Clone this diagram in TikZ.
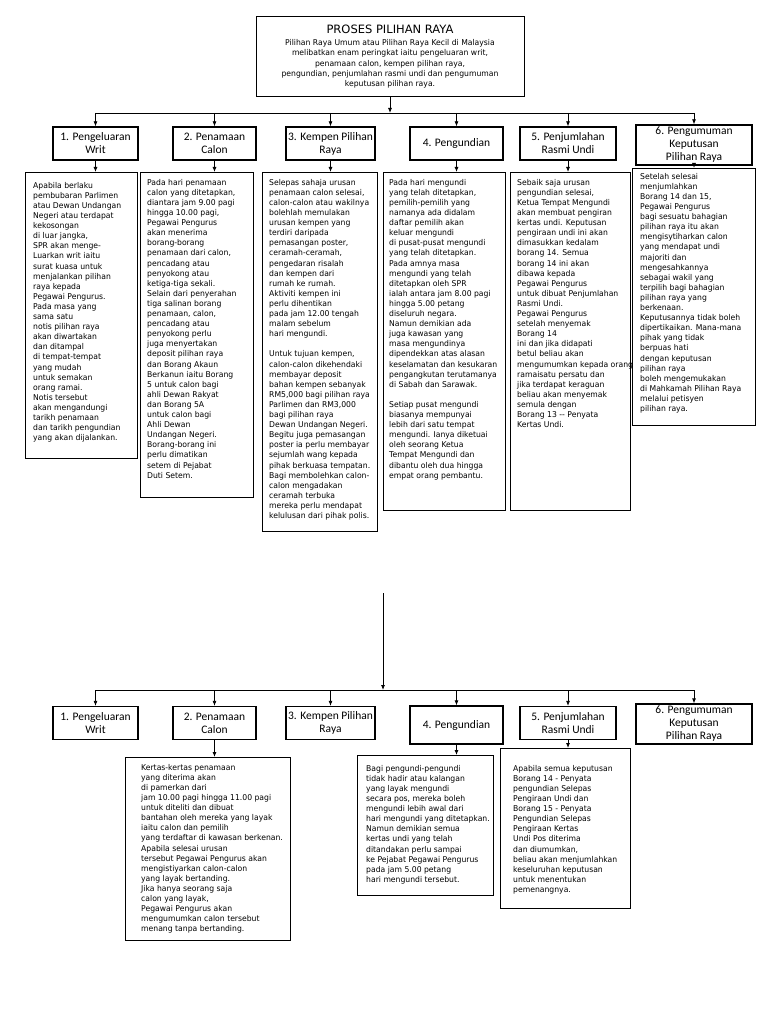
\documentclass[tikz,border=0pt]{standalone}
\usepackage{fontspec}
\usetikzlibrary{arrows.meta}
\newfontfamily\bodyfont[FakeStretch=0.96]{DejaVu Sans}
\newfontfamily\titlefont{DejaVu Sans}
\newfontfamily\headfont{Carlito}
\tikzset{
  hdr/.style={draw=black, line width=1.3pt, font=\headfont\fontsize{11.5}{13}\selectfont, align=center, inner sep=1pt},
  tbox/.style={draw=black, line width=0.9pt, anchor=north west, inner sep=0pt},
  btxt/.style={anchor=north west, font=\bodyfont\fontsize{8}{10.1}\selectfont, align=left, inner sep=0pt},
  arr/.style={-{Latex[length=5pt,width=4pt]}, line width=0.8pt},
  link/.style={line width=0.9pt}
}
\begin{document}
\begin{tikzpicture}[x=1pt,y=-1pt]
\useasboundingbox (0,0) rectangle (768,1024);
\fill[white] (0,0) rectangle (768,1024);
% ---------- top box
\node[draw=black, line width=1pt, minimum width=268pt, minimum height=80pt, align=center, inner sep=0pt,
      font=\bodyfont\fontsize{8}{10.4}\selectfont] (top) at (390,57)
 {{\titlefont\fontsize{11.5}{13}\selectfont PROSES PILIHAN RAYA}\\[1pt]
  Pilihan Raya Umum  atau Pilihan Raya Kecil di Malaysia\\
  melibatkan enam peringkat iaitu pengeluaran writ,\\
  penamaan calon, kempen pilihan raya,\\
  pengundian, penjumlahan rasmi undi dan pengumuman\\
  keputusan pilihan raya.};
\coordinate (bar) at (0,113);
% ---------- headers (top)
\node[hdr, minimum width=85pt, minimum height=33pt] (h1) at (95.5,143.5) {1. Pengeluaran\\Writ};
\node[hdr, minimum width=83pt, minimum height=33pt] (h2) at (214.5,143.5) {2. Penamaan\\Calon};
\node[hdr, minimum width=89pt, minimum height=33pt] (h3) at (330.5,143.5) {3. Kempen Pilihan\\Raya};
\node[hdr, minimum width=93pt, minimum height=33pt] (h4) at (456.5,143.5) {4. Pengundian};
\node[hdr, minimum width=96pt, minimum height=33pt] (h5) at (568,143.5) {5. Penjumlahan\\Rasmi Undi};
\node[hdr, minimum width=116pt, minimum height=40pt] (h6) at (694,145) {6. Pengumuman\\Keputusan\\Pilihan Raya};
\draw[arr] (top.south) -- (top.south |- bar);
\draw[link] (h1.north |- bar) -- (h6.north |- bar);
\foreach \h in {h1,h2,h3,h4,h5,h6} \draw[arr] (\h.north |- bar) -- (\h.north);
% ---------- text boxes (top)
\node[tbox, minimum width=112pt, minimum height=286pt] (c1) at (25,172) {};
\node[tbox, minimum width=113pt, minimum height=325pt] (c2) at (140,172) {};
\node[tbox, minimum width=115pt, minimum height=359pt] (c3) at (262,172) {};
\node[tbox, minimum width=122pt, minimum height=338pt] (c4) at (383,172) {};
\node[tbox, minimum width=120pt, minimum height=338pt] (c5) at (510,172) {};
\node[tbox, minimum width=123pt, minimum height=257pt] (c6) at (632,168) {};
\draw[arr] (h1.south) -- (h1.south |- c1.north);
\draw[arr] (h2.south) -- (h2.south |- c2.north);
\draw[arr] (h3.south) -- (h3.south |- c3.north);
\draw[arr] (h4.south) -- (h4.south |- c4.north);
\draw[arr] (h5.south) -- (h5.south |- c5.north);
\draw[arr] (h6.south) -- (h6.south |- c6.north);
\node[btxt] (t1) at ([shift={(8pt,-10pt)}]c1.north west) {Apabila berlaku\\pembubaran Parlimen\\atau Dewan Undangan\\Negeri atau terdapat\\kekosongan\\di luar jangka,\\SPR akan menge-\\Luarkan writ iaitu\\surat kuasa untuk\\menjalankan pilihan\\raya kepada\\Pegawai Pengurus.\\Pada masa yang\\sama satu\\notis pilihan raya\\akan diwartakan\\dan ditampal\\di tempat-tempat\\yang mudah\\untuk semakan\\orang ramai.\\Notis tersebut\\akan mengandungi\\tarikh penamaan\\dan tarikh pengundian\\yang akan dijalankan.};
\node[btxt] (t2) at ([shift={(7pt,-7pt)}]c2.north west) {Pada hari penamaan\\calon yang ditetapkan,\\diantara  jam 9.00 pagi\\hingga 10.00 pagi,\\Pegawai Pengurus\\akan menerima\\borang-borang\\penamaan dari calon,\\pencadang  atau\\penyokong atau\\ketiga-tiga sekali.\\Selain dari penyerahan\\tiga salinan borang\\penamaan, calon,\\pencadang atau\\penyokong perlu\\juga menyertakan\\deposit pilihan raya\\dan Borang Akaun\\Berkanun iaitu Borang\\5 untuk calon bagi\\ahli Dewan Rakyat\\dan Borang 5A\\untuk calon bagi\\Ahli Dewan\\Undangan Negeri.\\Borang-borang ini\\perlu dimatikan\\setem di Pejabat\\Duti Setem.};
\node[btxt] (t3) at ([shift={(7pt,-7pt)}]c3.north west) {Selepas sahaja urusan\\penamaan calon selesai,\\calon-calon atau wakilnya\\bolehlah memulakan\\urusan kempen yang\\terdiri daripada\\pemasangan poster,\\ceramah-ceramah,\\pengedaran risalah\\dan kempen dari\\rumah ke rumah.\\Aktiviti kempen ini\\perlu dihentikan\\pada jam 12.00 tengah\\malam sebelum\\hari mengundi.\\[10.1pt]Untuk tujuan kempen,\\calon-calon dikehendaki\\membayar deposit\\bahan kempen sebanyak\\RM5,000 bagi pilihan raya\\Parlimen dan RM3,000\\bagi pilihan raya\\Dewan Undangan Negeri.\\Begitu juga pemasangan\\poster ia perlu membayar\\sejumlah wang kepada\\pihak berkuasa tempatan.\\Bagi membolehkan calon-\\calon mengadakan\\ceramah terbuka\\mereka perlu mendapat\\kelulusan dari pihak polis.};
\node[btxt] (t4) at ([shift={(6pt,-7pt)}]c4.north west) {Pada hari mengundi\\yang telah ditetapkan,\\pemilih-pemilih yang\\namanya ada didalam\\daftar pemilih akan\\keluar mengundi\\di pusat-pusat mengundi\\yang telah ditetapkan.\\Pada amnya masa\\mengundi yang telah\\ditetapkan oleh SPR\\ialah antara jam 8.00 pagi\\hingga 5.00 petang\\diseluruh negara.\\Namun demikian ada\\juga kawasan yang\\masa mengundinya\\dipendekkan atas alasan\\keselamatan dan kesukaran\\pengangkutan terutamanya\\di Sabah dan Sarawak.\\[10.1pt]Setiap pusat mengundi\\biasanya  mempunyai\\lebih dari satu tempat\\mengundi.  Ianya diketuai\\oleh seorang Ketua\\Tempat Mengundi dan\\dibantu oleh dua hingga\\empat orang pembantu.};
\node[btxt] (t5) at ([shift={(7pt,-7pt)}]c5.north west) {Sebaik saja urusan\\pengundian selesai,\\Ketua Tempat Mengundi\\akan membuat pengiran\\kertas undi.  Keputusan\\pengiraan undi ini akan\\dimasukkan kedalam\\borang 14.  Semua\\borang 14 ini akan\\dibawa kepada\\Pegawai Pengurus\\untuk dibuat Penjumlahan\\Rasmi Undi.\\Pegawai Pengurus\\setelah menyemak\\Borang 14\\ini dan jika didapati\\betul beliau akan\\mengumumkan kepada orang\\ramaisatu persatu dan\\jika terdapat keraguan\\beliau akan menyemak\\semula dengan\\Borang 13 -- Penyata\\Kertas Undi.};
\node[btxt] (t6) at ([shift={(8pt,-5pt)}]c6.north west) {Setelah selesai\\menjumlahkan\\Borang 14 dan 15,\\Pegawai Pengurus\\bagi sesuatu bahagian\\pilihan raya itu akan\\mengisytiharkan calon\\yang mendapat undi\\majoriti dan\\mengesahkannya\\sebagai wakil yang\\terpilih bagi bahagian\\pilihan raya  yang\\berkenaan.\\Keputusannya tidak boleh\\dipertikaikan.  Mana-mana\\pihak yang tidak\\berpuas hati\\dengan keputusan\\pilihan raya\\boleh mengemukakan\\di Mahkamah Pilihan Raya\\melalui petisyen\\pilihan raya.};
% ---------- bottom section
\coordinate (src) at (383,593);
\coordinate (bar2) at (0,690);
\node[hdr, minimum width=85pt, minimum height=33pt] (g1) at (95.5,723) {1. Pengeluaran\\Writ};
\node[hdr, minimum width=83pt, minimum height=33pt] (g2) at (214.5,723) {2. Penamaan\\Calon};
\node[hdr, minimum width=89pt, minimum height=33pt] (g3) at (330.5,723) {3. Kempen Pilihan\\Raya};
\node[hdr, minimum width=93pt, minimum height=38pt] (g4) at (456.5,725) {4. Pengundian};
\node[hdr, minimum width=96pt, minimum height=33pt] (g5) at (568,723) {5. Penjumlahan\\Rasmi Undi};
\node[hdr, minimum width=116pt, minimum height=40pt] (g6) at (694,724) {6. Pengumuman\\Keputusan\\Pilihan Raya};
\draw[arr] (src) -- (src |- bar2);
\draw[link] (g1.north |- bar2) -- (g6.north |- bar2);
\foreach \g in {g1,g2,g3,g4,g5,g6} \draw[arr] (\g.north |- bar2) -- (\g.north);
\node[tbox, minimum width=165pt, minimum height=183pt] (d2) at (125,757) {};
\node[tbox, minimum width=136pt, minimum height=140pt] (d4) at (357,755) {};
\node[tbox, minimum width=130pt, minimum height=160pt] (d5) at (500,748) {};
\draw[arr] (g2.south) -- (g2.south |- d2.north);
\draw[arr] (g4.south) -- (g4.south |- d4.north);
\draw[arr] (g5.south) -- (g5.south |- d5.north);
\node[btxt] (u2) at ([shift={(16pt,-7pt)}]d2.north west) {Kertas-kertas penamaan\\yang diterima akan\\di pamerkan dari\\jam 10.00 pagi hingga 11.00 pagi\\untuk diteliti dan dibuat\\bantahan oleh mereka yang layak\\iaitu calon dan pemilih\\yang terdaftar di kawasan berkenan.\\Apabila selesai urusan\\tersebut Pegawai Pengurus akan\\mengistiyarkan calon-calon\\yang layak bertanding.\\Jika hanya seorang saja\\calon yang layak,\\Pegawai Pengurus akan\\mengumumkan calon tersebut\\menang tanpa bertanding.};
\node[btxt] (u4) at ([shift={(9pt,-10pt)}]d4.north west) {Bagi pengundi-pengundi\\tidak hadir atau kalangan\\yang layak mengundi\\secara pos, mereka boleh\\mengundi lebih awal dari\\hari mengundi yang ditetapkan.\\Namun demikian semua\\kertas undi yang telah\\ditandakan perlu sampai\\ke Pejabat Pegawai Pengurus\\pada  jam 5.00 petang\\hari  mengundi tersebut.};
\node[btxt] (u5) at ([shift={(13pt,-17pt)}]d5.north west) {Apabila semua keputusan\\Borang 14 - Penyata\\pengundian Selepas\\Pengiraan Undi dan\\Borang 15 - Penyata\\Pengundian Selepas\\Pengiraan Kertas\\Undi Pos diterima\\dan diumumkan,\\beliau akan menjumlahkan\\keseluruhan keputusan\\untuk menentukan\\pemenangnya.};
\end{tikzpicture}
\end{document}
